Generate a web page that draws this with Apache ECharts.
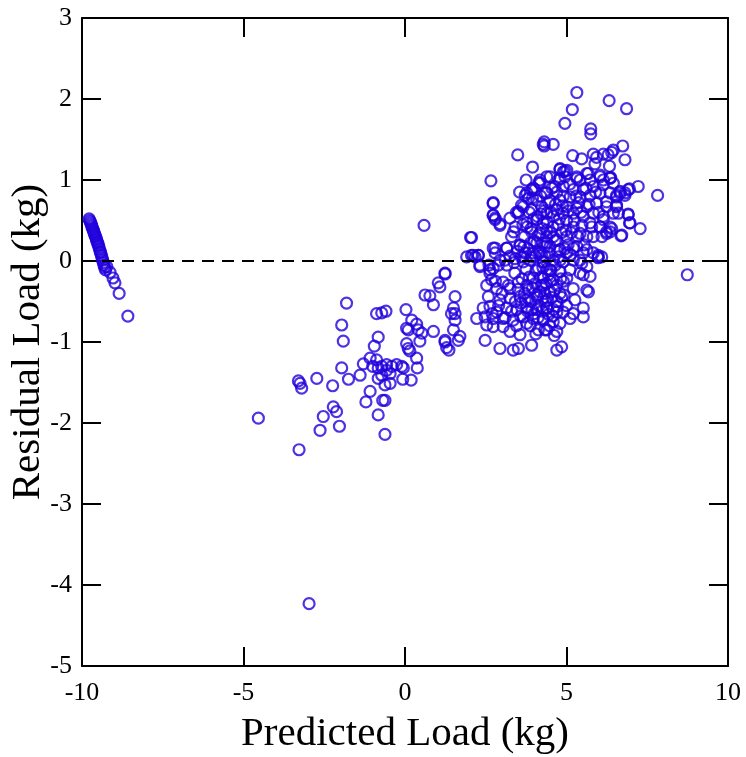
<!DOCTYPE html>
<html>
<head>
<meta charset="utf-8">
<script src="https://cdn.jsdelivr.net/npm/echarts@6/dist/echarts.min.js"></script>
<style>
  html, body { margin: 0; padding: 0; background: #fff; }
  #chart { width: 746px; height: 757px; }
</style>
</head>
<body>
<div id="chart"></div>
<script>
// axis ticks
const xTicks = [-10, -5, 0, 5, 10]
const yTicks = [-5, -4, -3, -2, -1, 0, 1, 2, 3]

// [predicted, residual] — the narrow streak near -10
const leftStreak = [
  [-9.78, 0.52], [-9.76, 0.50], [-9.74, 0.48], [-9.72, 0.46], [-9.70, 0.44], [-9.69, 0.42],
  [-9.67, 0.40], [-9.65, 0.38], [-9.63, 0.36], [-9.62, 0.34], [-9.60, 0.32], [-9.58, 0.30],
  [-9.56, 0.28], [-9.55, 0.26], [-9.53, 0.24], [-9.51, 0.22], [-9.50, 0.20], [-9.48, 0.18],
  [-9.46, 0.15], [-9.44, 0.12], [-9.42, 0.10], [-9.40, 0.07], [-9.38, 0.04], [-9.36, 0.01],
  [-9.34, -0.02], [-9.32, -0.05], [-9.30, -0.08], [-9.27, -0.11], [-9.23, -0.07], [-9.13, -0.14],
  [-9.04, -0.21], [-8.98, -0.27], [-8.85, -0.40], [-8.58, -0.68]
]

// the sparse middle group
const midGroup = [
  [-4.54, -1.94], [-3.30, -1.48], [-3.25, -1.51], [-3.20, -1.57], [-3.28, -2.33], [-2.97, -4.23],
  [-2.73, -1.45], [-2.63, -2.09], [-2.53, -1.92], [-2.24, -1.54], [-2.22, -1.80], [-2.12, -1.86],
  [-2.03, -2.04], [-1.96, -0.79], [-1.91, -0.99], [-1.96, -1.32], [-1.81, -0.52], [-1.75, -1.46],
  [-0.88, -0.65], [-0.72, -0.64], [-0.59, -0.62], [-0.83, -0.94], [-0.95, -1.05],
  [-1.29, -1.27], [-1.39, -1.41], [-1.08, -1.20], [-1.00, -1.30], [-0.88, -1.22], [-0.83, -1.32],
  [-0.72, -1.30], [-0.57, -1.28], [-0.41, -1.30], [-0.26, -1.28], [-0.10, -1.30], [-0.05, -1.32],
  [-0.46, -1.39], [-0.57, -1.35], [-0.72, -1.41], [-0.83, -1.45], [-0.62, -1.53], [-0.46, -1.51],
  [-1.08, -1.61], [-1.21, -1.74], [-0.69, -1.72], [-0.62, -1.72], [-0.83, -1.90], [-0.62, -2.14],
  [-0.07, -1.46], [0.19, -1.47], [0.03, -0.60], [0.21, -0.73], [0.36, -0.78], [0.05, -0.83],
  [0.10, -0.85], [0.41, -0.85], [0.52, -0.89], [0.05, -1.02], [0.10, -1.08], [0.15, -1.11],
  [0.46, -0.99], [0.36, -1.20], [0.38, -1.32], [0.62, -0.42], [0.77, -0.43], [0.88, -0.54],
  [1.03, -0.27], [1.08, -0.32], [1.24, -0.16], [0.88, -0.87], [1.24, -1.00], [1.29, -1.07],
  [0.59, 0.44], [1.24, -0.15], [1.55, -0.44], [1.50, -0.58], [1.44, -0.65], [1.55, -0.65],
  [1.55, -0.73], [1.50, -0.85], [1.24, -0.98], [1.65, -0.98], [1.36, -1.10], [1.70, -0.93]
]

// the dense cluster on the right
const mainCluster = [
  [5.32, 2.08], [6.32, 1.98], [6.86, 1.88], [5.18, 1.87], [4.95, 1.70], [5.75, 1.63], [5.75, 1.57],
  [4.31, 1.47], [4.31, 1.42], [4.59, 1.44], [3.49, 1.31], [3.95, 1.16], [5.19, 1.30], [5.47, 1.26],
  [5.83, 1.32], [5.93, 1.28], [6.14, 1.32], [6.45, 1.37], [6.40, 1.34], [6.33, 1.17], [5.88, 1.20],
  [6.74, 1.42], [6.29, 1.31], [6.81, 1.25], [6.37, 1.03], [2.66, 0.99],
  [4.49, 1.04], [4.80, 1.13], [4.90, 1.10], [5.01, 1.12], [4.95, 1.04], [4.75, 1.00],
  [5.32, 1.04], [5.42, 1.00], [5.67, 1.08], [6.04, 1.06], [6.35, 1.02], [6.14, 1.00], [6.45, 0.96],
  [2.73, 0.71], [2.73, 0.57], [2.79, 0.53], [2.94, 0.44], [3.25, 0.53], [3.41, 0.42], [3.36, 0.36],
  [3.51, 0.59], [3.66, 0.67], [3.72, 0.81], [3.92, 0.88], [3.97, 0.90], [4.18, 0.96], [3.82, 0.77],
  [4.08, 0.75], [2.03, 0.29], [2.11, 0.07], [2.27, 0.07], [2.32, -0.05],
  [2.79, 0.16], [3.15, 0.16], [3.10, 0.01], [2.89, -0.05], [2.63, -0.15],
  [3.56, 0.20], [3.72, 0.10], [3.87, 0.01], [4.18, 0.10], [4.49, 0.18], [4.70, 0.26], [4.80, 0.01],
  [5.01, 0.10], [5.32, 0.18], [5.42, 0.01], [5.63, -0.07], [5.83, 0.10], [5.98, 0.05], [5.63, 0.30],
  [5.78, 0.42], [6.04, 0.42], [6.35, 0.42], [6.24, 0.34], [6.14, 0.55], [6.45, 0.59], [6.55, 0.67],
  [7.22, 0.92], [6.95, 0.89], [6.81, 0.84], [6.66, 0.84], [6.55, 0.81], [7.82, 0.81],
  [6.91, 0.58], [6.95, 0.47], [7.28, 0.40], [6.69, 0.31], [6.40, 0.40], [6.24, 0.36], [6.14, 0.51],
  [6.09, 0.05], [8.74, -0.17],
  [4.80, 1.14], [4.95, 1.11], [4.18, 1.00], [4.80, 1.02], [5.32, 1.02], [5.63, 1.08], [5.73, 1.00],
  [6.04, 1.04], [6.35, 1.03], [6.14, 0.94], [5.83, 0.92], [5.52, 0.88], [5.21, 0.88], [4.90, 0.92],
  [4.64, 0.92], [4.39, 0.84], [4.49, 0.75], [4.80, 0.75], [5.11, 0.79], [5.42, 0.79], [5.73, 0.81],
  [6.04, 0.84], [6.35, 0.84], [6.66, 0.86], [6.91, 0.88], [6.81, 0.81], [6.55, 0.79], [6.24, 0.73],
  [5.93, 0.71], [5.63, 0.67], [5.32, 0.65], [5.01, 0.67], [4.70, 0.63], [4.39, 0.59], [4.90, 0.59],
  [5.21, 0.59], [5.52, 0.55], [5.83, 0.59], [6.24, 0.67], [6.55, 0.69], [6.61, 0.59], [6.91, 0.57],
  [6.97, 0.47], [6.71, 0.32], [6.35, 0.36], [6.04, 0.42], [5.73, 0.47], [5.83, 0.30], [5.42, 0.34],
  [5.21, 0.42], [5.01, 0.30], [4.59, 0.30], [4.39, 0.22], [4.80, 0.14], [5.21, 0.16], [5.63, 0.14],
  [5.98, 0.07], [5.52, 0.10],
  [4.28, 1.44], [4.15, 0.97], [4.02, 0.88], [3.77, 0.84], [4.39, 1.04], [2.73, 0.72],
  [3.61, 0.69], [3.92, 0.63], [4.23, 0.67], [3.51, 0.61], [2.73, 0.56], [2.79, 0.51], [2.94, 0.46],
  [3.77, 0.47], [4.08, 0.51], [4.28, 0.47], [3.92, 0.36], [4.18, 0.34], [4.39, 0.38], [2.06, 0.29],
  [3.56, 0.19], [4.08, 0.22], [4.33, 0.18], [2.06, 0.07], [2.27, 0.07], [2.73, 0.16], [2.79, 0.10],
  [3.15, 0.16], [3.25, 0.06], [3.66, 0.05], [3.97, 0.10], [4.23, 0.07],
  [1.91, 0.05], [2.17, 0.05], [2.32, -0.07], [2.63, -0.11], [2.73, -0.09], [2.94, 0.01], [3.15, -0.05],
  [3.41, 0.03], [3.66, -0.01], [3.92, 0.05], [4.28, -0.01], [4.13, -0.09],
  [2.53, -0.30], [2.68, -0.23], [2.84, -0.34], [3.04, -0.26], [3.25, -0.34], [3.51, -0.26], [3.77, -0.30],
  [3.97, -0.21], [4.23, -0.30], [4.44, -0.17], [2.58, -0.44], [2.94, -0.48], [3.25, -0.46], [3.56, -0.44],
  [3.82, -0.46], [4.08, -0.42], [4.33, -0.40], [2.42, -0.58], [2.63, -0.56], [2.84, -0.63], [3.15, -0.58],
  [3.46, -0.60], [3.77, -0.58], [4.08, -0.60], [4.39, -0.58], [2.48, -0.69], [2.22, -0.71], [2.73, -0.71],
  [3.04, -0.71], [3.35, -0.73], [3.66, -0.69], [3.97, -0.71], [4.28, -0.73], [2.53, -0.79], [2.73, -0.81],
  [3.04, -0.81], [3.77, -0.77], [4.13, -0.85], [4.33, -0.85], [3.25, -0.87], [3.56, -0.91], [2.48, -0.98],
  [2.94, -1.08], [3.35, -1.10], [3.51, -1.08], [3.92, -1.04],
  [5.98, 0.04], [4.28, -0.01], [4.59, 0.01], [4.90, -0.01], [5.21, 0.01], [5.47, -0.03], [4.49, -0.11],
  [4.80, -0.13], [5.11, -0.11], [5.42, -0.15], [5.73, -0.19], [4.28, -0.21], [4.59, -0.23], [5.01, -0.21],
  [5.52, -0.17], [5.21, -0.34], [5.63, -0.36], [5.68, -0.38], [4.80, -0.40], [4.49, -0.38], [4.28, -0.46],
  [4.70, -0.50], [5.26, -0.48], [4.39, -0.58], [4.70, -0.63], [4.90, -0.63], [5.21, -0.65], [5.52, -0.58],
  [5.52, -0.69], [4.28, -0.71], [4.59, -0.75], [4.80, -0.77], [5.11, -0.71], [4.39, -0.85], [4.70, -0.87],
  [4.70, -1.10], [4.85, -1.06],
  [3.50, -0.35], [3.60, -0.52], [3.70, -0.40], [3.80, -0.62], [3.85, -0.20], [3.90, -0.50], [3.95, -0.33],
  [4.00, -0.65], [4.05, -0.12], [4.10, -0.45], [4.15, -0.55], [4.20, -0.20], [4.25, -0.62], [4.30, -0.30],
  [4.35, -0.50], [4.40, -0.10], [4.45, -0.66], [4.50, -0.25], [4.55, -0.45], [4.60, -0.60], [4.65, -0.05],
  [4.70, -0.30], [4.75, 0.05], [4.85, -0.45], [4.90, -0.25], [5.00, -0.55], [5.05, 0.20], [3.60, 0.05],
  [3.70, 0.30], [3.75, -0.10], [3.80, 0.15], [3.90, 0.40], [4.00, 0.25], [4.10, 0.55], [4.15, 0.12],
  [4.20, 0.80], [4.25, 0.40], [4.30, 0.62], [4.35, 0.05], [4.40, 0.48], [4.45, 0.72], [4.50, 0.35],
  [4.55, 0.90], [4.60, 0.55], [4.65, 0.25], [4.70, 0.85], [4.75, 0.45], [4.85, 0.35], [4.90, 0.80],
  [4.95, 0.15], [5.00, 0.50], [5.10, 0.95], [5.15, 0.35], [5.30, 0.80], [5.35, 0.30], [5.45, 0.60],
  [5.55, 0.20], [5.60, 0.90], [5.70, 0.70], [5.90, 0.85], [6.00, 0.60], [6.10, 0.30], [3.30, -0.62],
  [3.20, -0.30], [3.10, -0.70], [3.00, -0.40], [2.90, -0.55], [2.80, -0.25], [2.70, -0.65], [2.60, -0.05],
  [3.40, -0.15], [3.30, 0.30], [3.45, 0.60], [3.55, 0.85], [3.65, 0.45], [3.75, 1.00], [3.85, 0.60],
  [3.95, 0.78],
  [3.62, -0.22], [3.72, -0.48], [3.83, -0.35], [3.93, -0.60], [4.03, -0.28], [4.12, -0.70], [4.18, -0.38],
  [4.27, -0.08], [4.37, -0.28], [4.42, -0.48], [4.52, -0.12], [4.57, -0.68], [4.62, -0.36], [4.72, -0.56],
  [4.82, -0.22], [4.92, -0.42], [3.68, 0.18], [3.78, 0.42], [3.88, 0.22], [3.98, 0.52], [4.04, 0.06],
  [4.12, 0.32], [4.22, 0.58], [4.26, 0.22], [4.33, 0.84], [4.38, 0.30], [4.46, 0.10], [4.52, 0.60],
  [4.58, 0.42], [4.66, 0.70], [4.72, 0.12], [4.78, 0.52], [4.88, 0.68], [4.98, 0.38], [5.06, 0.62],
  [5.12, 0.08], [5.24, 0.50], [5.38, 0.72], [5.48, 0.44], [3.42, -0.50], [3.38, -0.02], [3.48, 0.12],
  [3.58, -0.68], [3.45, -0.80], [3.88, -0.80], [4.05, -0.90], [4.48, -0.80], [4.62, -0.92]
]

const font = 'Liberation Serif, Times New Roman, serif'
const blue = '#2000dc'

const chart = echarts.init(document.getElementById('chart'))

function axisBase(extra) {
  return Object.assign({
    type: 'value',
    axisLine: { show: true, onZero: false, lineStyle: { color: '#000', width: 2 } },
    axisTick: { show: true, inside: true, length: 19, lineStyle: { color: '#000', width: 2 } },
    splitLine: { show: false },
    axisLabel: { color: '#000', fontFamily: font, fontSize: 26 }
  }, extra)
}

chart.setOption({
  animation: false,
  backgroundColor: '#fff',
  grid: { left: 82, right: 18, top: 18, bottom: 91, containLabel: false, outerBoundsMode: 'none' },
  xAxis: [
    axisBase({
      min: xTicks[0], max: xTicks[xTicks.length - 1], interval: 5,
      name: 'Predicted Load (kg)', nameLocation: 'middle', nameGap: 48,
      nameMoveOverlap: false,
      nameTextStyle: { color: '#000', fontFamily: font, fontSize: 41 },
      axisLabel: { color: '#000', fontFamily: font, fontSize: 26, margin: 14 }
    }),
    axisBase({
      position: 'top', min: xTicks[0], max: xTicks[xTicks.length - 1], interval: 5,
      axisLabel: { show: false }
    })
  ],
  yAxis: [
    axisBase({
      min: yTicks[0], max: yTicks[yTicks.length - 1], interval: 1,
      name: 'Residual Load (kg)', nameLocation: 'middle', nameGap: 33,
      nameMoveOverlap: false,
      nameTextStyle: { color: '#000', fontFamily: font, fontSize: 41 },
      axisLabel: { color: '#000', fontFamily: font, fontSize: 26, margin: 10 }
    }),
    axisBase({
      position: 'right', min: yTicks[0], max: yTicks[yTicks.length - 1], interval: 1,
      axisLabel: { show: false }
    })
  ],
  series: [
    {
      type: 'scatter',
      data: leftStreak.concat(midGroup, mainCluster),
      symbol: 'circle',
      symbolSize: 11,
      itemStyle: { color: 'rgba(0,0,0,0)', borderColor: blue, borderWidth: 2.2 },
      emphasis: { disabled: true },
      markLine: {
        silent: true,
        symbol: 'none',
        label: { show: false },
        lineStyle: { color: '#000', width: 2, type: [12, 8] },
        data: [{ yAxis: 0 }]
      },
      z: 3
    }
  ]
})
</script>
</body>
</html>
